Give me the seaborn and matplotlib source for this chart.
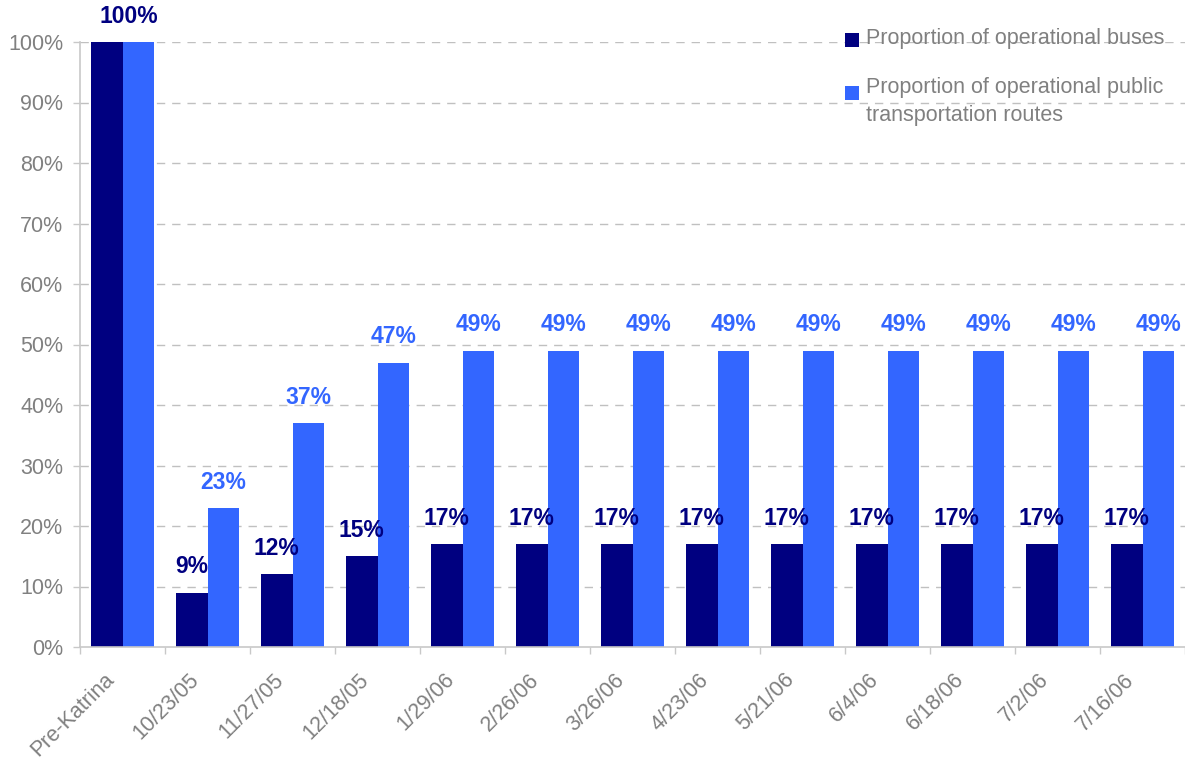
import matplotlib
matplotlib.use("Agg")
import matplotlib.pyplot as plt
import matplotlib.patches as mpatches
import matplotlib.transforms as mtransforms
import seaborn as sns
import pandas as pd
import numpy as np

categories = ["Pre-Katrina", "10/23/05", "11/27/05", "12/18/05", "1/29/06", "2/26/06",
              "3/26/06", "4/23/06", "5/21/06", "6/4/06", "6/18/06", "7/2/06", "7/16/06"]
buses = [1.00, 0.09, 0.12, 0.15, 0.17, 0.17, 0.17, 0.17, 0.17, 0.17, 0.17, 0.17, 0.17]
routes = [1.00, 0.23, 0.37, 0.47, 0.49, 0.49, 0.49, 0.49, 0.49, 0.49, 0.49, 0.49, 0.49]
series_names = ["Proportion of operational buses",
                "Proportion of operational public transportation routes"]
legend_lines = [["Proportion of operational buses"],
                ["Proportion of operational public", "transportation routes"]]
colors = ["#000080", "#3366FF"]
yticks = [0, 0.1, 0.2, 0.3, 0.4, 0.5, 0.6, 0.7, 0.8, 0.9, 1.0]

sns.set_theme(style="white")
plt.rcParams["font.family"] = ["Liberation Sans", "DejaVu Sans"]

W, H = 1185, 759
df = pd.DataFrame({
    "date": categories * 2,
    "value": buses + routes,
    "series": [series_names[0]] * len(categories) + [series_names[1]] * len(categories),
})

fig = plt.figure(figsize=(W / 100, H / 100), dpi=100)
ax = fig.add_axes([80 / W, 1 - 647 / H, 1 - 80 / W, (647 - 42) / H])

sns.barplot(data=df, x="date", y="value", hue="series", order=categories,
            hue_order=series_names, palette=colors, width=0.75, gap=0,
            saturation=1, legend=False, ax=ax, edgecolor="none", linewidth=0)

ax.set_xlim(-0.5, len(categories) - 0.5)
ax.set_ylim(0, 1.0)
ax.set_yticks(yticks)
ax.set_yticklabels([f"{int(round(t*100))}%" for t in yticks])
ax.set_xlabel("")
ax.set_ylabel("")

gray = "#808080"
axcol = "#C8C8C8"
fs = 15.5
ax.tick_params(axis="y", colors=gray, labelsize=fs, length=5, width=1, color=axcol, pad=7, left=True)
ax.tick_params(axis="x", which="major", length=0, labelsize=fs, labelcolor=gray, pad=6)
ax.set_xticks(np.arange(-0.5, len(categories), 1.0), minor=True)
ax.tick_params(axis="x", which="minor", length=5, color=axcol, width=1, bottom=True)
shift = mtransforms.ScaledTranslation(-19 / 100, -14 / 100, fig.dpi_scale_trans)
for lab in ax.get_xticklabels():
    lab.set_rotation(45)
    lab.set_ha("right")
    lab.set_rotation_mode("anchor")
    lab.set_transform(lab.get_transform() + shift)

for s in ["top", "right"]:
    ax.spines[s].set_visible(False)
for s in ["left", "bottom"]:
    ax.spines[s].set_color(axcol)
    ax.spines[s].set_linewidth(1.2)

for t in yticks[1:]:
    ax.axhline(t, color="#C0C0C0", linestyle=(0, (6, 5)), linewidth=1, zorder=0)

# data labels
off = 0.1875
lfs = 16.5
for i, (b, r) in enumerate(zip(buses, routes)):
    if i == 0:
        ax.annotate(f"{int(round(b*100))}%", (i + 0.07, b), xytext=(0, 18.5), textcoords="offset points",
                    ha="center", va="center", fontsize=lfs, fontweight="bold", color=colors[0],
                    annotation_clip=False)
        continue
    ax.annotate(f"{int(round(b*100))}%", (i - off, b), xytext=(0, 18.5), textcoords="offset points",
                ha="center", va="center", fontsize=lfs, fontweight="bold", color=colors[0])
    ax.annotate(f"{int(round(r*100))}%", (i + off, r), xytext=(0, 18.5), textcoords="offset points",
                ha="center", va="center", fontsize=lfs, fontweight="bold", color=colors[1])

# legend (Excel style: marker aligned with first text line)
sq = 14
entries = [(33, 44), (86, 93)]
for (ytop, ybase), c, lines in zip(entries, colors, legend_lines):
    fig.patches.append(mpatches.Rectangle((845 / W, 1 - (ytop + sq) / H), sq / W, sq / H,
                                          transform=fig.transFigure, facecolor=c,
                                          edgecolor="none"))
    for k, line in enumerate(lines):
        fig.text(866 / W, 1 - (ybase + 28 * k) / H, line, ha="left", va="baseline",
                 fontsize=fs, color=gray)

fig.savefig("out.png", dpi=100)
